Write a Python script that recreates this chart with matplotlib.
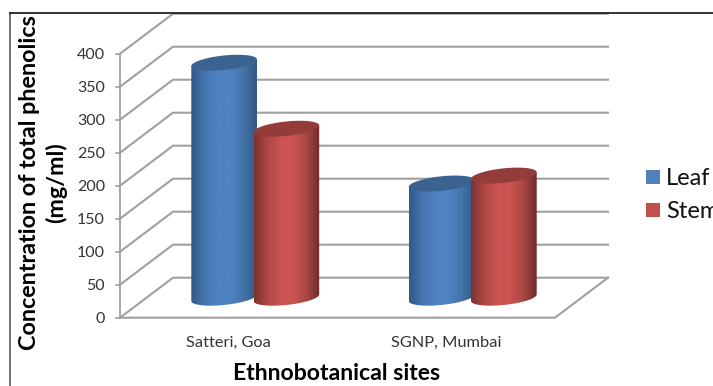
import numpy as np
import matplotlib
matplotlib.use("Agg")
import matplotlib.pyplot as plt
from matplotlib.colors import LinearSegmentedColormap
from matplotlib.patches import Polygon, Rectangle

plt.rcParams['font.family'] = ['Lato', 'DejaVu Sans']

sites = ["Satteri, Goa", "SGNP, Mumbai"]
series = ["Leaf", "Stem"]
leaf = [356, 173]
stem = [256, 185]
y_ticks = [0, 50, 100, 150, 200, 250, 300, 350, 400]

W, H = 713, 386
x_unit = 217.5   # px per category
y_unit = 0.66    # px per concentration unit
depth_x = 53 / x_unit
depth_y = 40 / y_unit
half_w = 0.151
shift = 0.143
ell_k = 11.0
ell_s = 5.0

fig = plt.figure(figsize=(W / 100, H / 100), dpi=100)
ax = fig.add_axes([0, 0, 1, 1])
xlim = (-120 / x_unit, (W - 120) / x_unit)
ylim = (-(H - 317.7) / y_unit, 317.7 / y_unit)
ax.axis('off')


def cylinder(xc, value, cols, top_col):
    cx = xc + depth_x / 2
    y0 = depth_y / 2
    y1 = value + depth_y / 2
    t = np.linspace(np.pi, 2 * np.pi, 60)
    bottom_x = cx + half_w * np.cos(t)
    bottom_y = y0 + ell_s * np.cos(t) + ell_k * np.sin(t)
    side = np.r_[np.c_[bottom_x, bottom_y],
                 [[cx + half_w, y1 + ell_s]],
                 [[cx - half_w, y1 - ell_s]]]
    patch = Polygon(side, closed=True, fc='none', ec='none', zorder=3)
    ax.add_patch(patch)
    cmap = LinearSegmentedColormap.from_list('c', cols)
    im = ax.imshow(np.linspace(0, 1, 128).reshape(1, -1), cmap=cmap, aspect='auto',
                   extent=(cx - half_w, cx + half_w, y0 - 30, y1 + 30), zorder=3)
    im.set_clip_path(patch)
    # shaded lid, tilted so the right end sits higher
    t = np.linspace(0, 2 * np.pi, 90)
    lid = np.c_[cx + half_w * np.cos(t), y1 + ell_s * np.cos(t) + ell_k * np.sin(t)]
    ax.add_patch(Polygon(lid, closed=True, fc=top_col, ec='none', zorder=3))


grid_c = '#a0a0a0'
# walls and floor
for v in y_ticks:
    ax.plot([0, depth_x, 2 + depth_x], [v, v + depth_y, v + depth_y],
            color=grid_c, lw=1.5, zorder=1, solid_joinstyle='miter')
    ax.plot([-4 / x_unit, 0], [v, v], color=grid_c, lw=1.2, zorder=1)
ax.plot([0, 0], [0, 400], color=grid_c, lw=1.3, zorder=1)
ax.plot([0, 2, 2 + depth_x], [0, 0, depth_y], color=grid_c, lw=1.5, zorder=1)

blue = ['#33598a', '#4474ad', '#4f83c2', '#4f83c2', '#4573a8', '#325a88']
red = ['#7d3230', '#ad4745', '#cb5451', '#cb5451', '#a84644', '#6e2c2a']
for i in range(len(sites)):
    cylinder(i + 0.5 - shift, leaf[i], blue, '#3a6391')
    cylinder(i + 0.5 + shift, stem[i], red, '#933c3a')

ax.set_xlim(xlim)
ax.set_ylim(ylim)

# chart frame
ax.plot([10 / W, 10 / W], [0, 1 - 12.5 / H], color='#555555', lw=1.2,
        transform=ax.transAxes, zorder=5)
ax.plot([10 / W, 1], [1 - 12.5 / H, 1 - 12.5 / H], color='#111111', lw=1.2,
        transform=ax.transAxes, zorder=5)

for v in y_ticks:
    ax.text(-15 / x_unit, v - 2.5, str(v), ha='right', va='center', fontsize=11.5, color='#333333')
for i, s in enumerate(sites):
    ax.text(i + 0.5, -37.5, s, ha='center', va='center', fontsize=11.8, color='#333333')


def px(x, y):
    return x / W, 1 - y / H


ax.text(*px(337, 374), "Ethnobotanical sites", transform=ax.transAxes, ha='center', va='center',
        fontsize=16.6, fontweight='bold', color='black')
ax.text(*px(30, 183), "Concentration of total phenolics", transform=ax.transAxes, rotation=90,
        ha='center', va='center', fontsize=16.8, fontweight='bold', color='black')
ax.text(*px(56, 183), "(mg/ml)", transform=ax.transAxes, rotation=90,
        ha='center', va='center', fontsize=16.8, fontweight='bold', color='black')

for name, col, y in zip(series, ['#4f81bd', '#c0504d'], [177, 210]):
    ax.add_patch(Rectangle(px(646, y + 7), 14 / W, 14 / H, transform=ax.transAxes,
                           fc=col, ec='none', zorder=5))
    ax.text(*px(666, y + 1.5), name, transform=ax.transAxes, ha='left', va='center',
            fontsize=17, color='#111111')

fig.savefig("out.png", dpi=100)
